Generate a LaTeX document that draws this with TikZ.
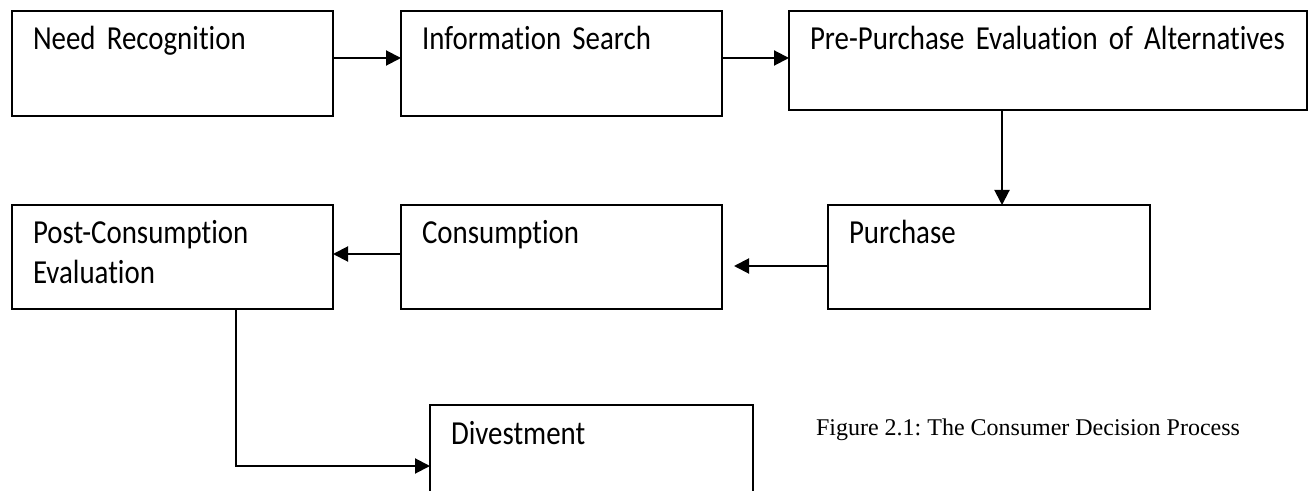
\documentclass[tikz,border=0pt]{standalone}
\usepackage{fontspec}
\setmainfont{Liberation Serif}
\newfontfamily\boxfont{Carlito}[FakeStretch=0.86,Ligatures=NoCommon]
\usetikzlibrary{arrows.meta}

\tikzset{
  stage/.style 2 args={draw, line width=1pt, outer sep=0pt, anchor=north west,
    align=left, inner xsep=10.5pt, inner ysep=0pt, text width=#1,
    text height=19.5pt, text depth=#2,
    font=\boxfont\fontsize{16.8pt}{20pt}\selectfont},
  flow/.style={line width=1pt, -{Triangle[length=7.5pt,width=7.5pt]}}
}

\begin{document}
\begin{tikzpicture}[x=0.5pt,y=-0.5pt]
% one unit = one pixel of the page, y runs down
\def\rise{2.75pt}
\useasboundingbox (0,0) rectangle (1309,491);

% top row
\node[stage={139.5pt}{33pt}] (need) at (12,11) {Need Recognition};
\node[stage={139.5pt}{33pt}] (search) at (401,11) {Information Search};
\node[stage={238pt}{30pt}] (evaluate) at (789,11) {\mbox{Pre-Purchase Evaluation of Alternatives}};

% middle row
\node[stage={139.5pt}{32.5pt}] (postuse) at (12,205) {Post-Consumption\\Evaluation};
\node[stage={139.5pt}{32.5pt}] (consume) at (401,205) {Consumption};
\node[stage={140pt}{32.5pt}] (purchase) at (828,205) {Purchase};

% bottom
\node[stage={140.5pt}{60pt}] (divest) at (430,405) {Divestment};
\node[anchor=base west, font=\fontsize{12pt}{14pt}\selectfont] (caption) at (809,435)
  {\frenchspacing Figure 2.1: The Consumer Decision Process};

% connectors
\coordinate (drop) at (1002,0);
\coordinate (gap) at (734,266);
\coordinate (turn) at (236,466);

\draw[flow] ([yshift=\rise]need.east) -- ([yshift=\rise]need.east -| search.west);
\draw[flow] ([yshift=\rise]search.east) -- ([yshift=\rise]search.east -| evaluate.west);
\draw[flow] (evaluate.south -| drop) -- (purchase.north -| drop);
\draw[flow] (purchase.west |- gap) -- (gap);
\draw[flow] ([yshift=1.5pt]consume.west) -- ([yshift=1.5pt]consume.west -| postuse.east);
\draw[flow] (postuse.south -| turn) |- (divest.west |- turn);

\end{tikzpicture}
\end{document}
